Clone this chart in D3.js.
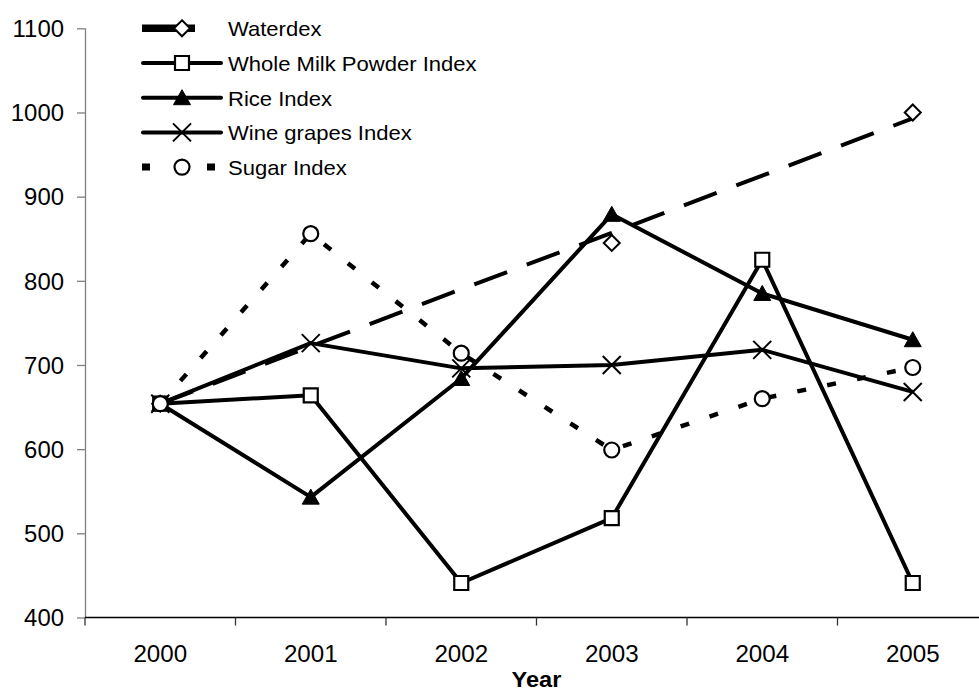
<!DOCTYPE html>
<html>
<head>
<meta charset="utf-8">
<script src="https://cdn.jsdelivr.net/npm/d3@7"></script>
<style>
  html, body { margin: 0; padding: 0; background: #fff; }
  svg { display: block; }
  text { font-family: "Liberation Sans", Arial, sans-serif; fill: #000; }
</style>
</head>
<body>
<svg id="chart" width="979" height="692"></svg>
<script>
// ---- data ----
const years = ["2000", "2001", "2002", "2003", "2004", "2005"];
const waterdexLine = [654, 722, 790, 857, 925, 993];
const waterdexPoints = [654, null, null, 845, null, 1000];
const wholeMilk = [654, 664, 441, 518, 825, 441];
const rice = [654, 543, 684, 879, 785, 730];
const wineGrapes = [654, 726, 696, 700, 718, 668];
const sugar = [654, 856, 714, 599, 660, 697];
const yTicks = [400, 500, 600, 700, 800, 900, 1000, 1100];
const legendLabels = ["Waterdex", "Whole Milk Powder Index", "Rice Index", "Wine grapes Index", "Sugar Index"];
const xTitle = "Year";

(function () {
// ---- layout ----
const svg = d3.select("#chart");
const pLeft = 85, pRight = 988, pTop = 28.3, pBottom = 617.5;

const x = d3.scaleBand().domain(years).range([pLeft, pRight]).padding(0);
const cx = d => x(d) + x.bandwidth() / 2;
const y = d3.scaleLinear().domain([400, 1100]).range([pBottom, pTop]);

// ---- axes ----
const yAxis = d3.axisLeft(y).tickValues(yTicks).tickSize(8).tickFormat(d3.format("d"));
const gy = svg.append("g").attr("transform", `translate(${pLeft},0)`).call(yAxis);
gy.select(".domain").attr("stroke", "#808080").attr("stroke-width", 1.3).attr("d", `M0.5,${pTop}V${pBottom}`);
gy.selectAll(".tick line").attr("stroke", "#808080").attr("stroke-width", 1.3);
gy.selectAll(".tick text").remove();
gy.selectAll(".tick").append("text")
  .attr("transform", "translate(-21,8.3) scale(1.04,1)")
  .attr("text-anchor", "end")
  .style("font-size", "23px")
  .text(d => d);

const xAxis = d3.axisBottom(x).tickSize(0);
const gx = svg.append("g").attr("transform", `translate(0,${pBottom})`).call(xAxis);
gx.select(".domain").attr("stroke", "#000").attr("stroke-width", 1.5).attr("d", `M${pLeft},0H${pRight}`);
gx.selectAll(".tick text").remove();
gx.selectAll(".tick").append("text")
  .attr("transform", "translate(0,44) scale(1.05,1)")
  .attr("text-anchor", "middle")
  .style("font-size", "23px")
  .text(d => d);
// category boundary tick marks
const boundaries = years.map(d => x(d)).concat([pRight]);
svg.append("g").selectAll("line").data(boundaries).join("line")
  .attr("x1", d => d).attr("x2", d => d)
  .attr("y1", pBottom).attr("y2", pBottom + 8)
  .attr("stroke", "#333").attr("stroke-width", 1.3);

svg.append("text")
  .attr("transform", `translate(${(pLeft + pRight) / 2},686.5) scale(1.05,1)`)
  .attr("text-anchor", "middle")
  .style("font-size", "22.5px").style("font-weight", "bold")
  .text(xTitle);

// ---- markers ----
const markerPath = {
  diamond: "M0,-8L8,0L0,8L-8,0Z",
  square: "M-7,-7H7V7H-7Z",
  triangle: "M0,-8L8.5,7L-8.5,7Z",
  cross: "M-9,-9L9,9M9,-9L-9,9",
  circle: d3.arc()({innerRadius: 0, outerRadius: 7.5, startAngle: 0, endAngle: 2 * Math.PI})
};
const markerStyle = {
  diamond: {fill: "#fff", stroke: "#000", sw: 2},
  square: {fill: "#fff", stroke: "#000", sw: 2.2},
  triangle: {fill: "#000", stroke: "#000", sw: 1},
  cross: {fill: "none", stroke: "#000", sw: 2},
  circle: {fill: "#fff", stroke: "#000", sw: 2.2}
};

const lineGen = d3.line().defined(d => d != null).x((d, i) => cx(years[i])).y(d => y(d));

const series = [
  {values: waterdexLine, dash: "35,21", width: 4, markers: waterdexPoints, marker: "diamond"},
  {values: wholeMilk, dash: null, width: 4, markers: wholeMilk, marker: "square"},
  {values: rice, dash: null, width: 4, markers: rice, marker: "triangle"},
  {values: wineGrapes, dash: null, width: 4, markers: wineGrapes, marker: "cross"},
  {values: sugar, dash: "9,21.5", width: 4.5, markers: sugar, marker: "circle"}
];

const plot = svg.append("g");
series.forEach(s => {
  plot.append("path")
    .attr("d", lineGen(s.values))
    .attr("fill", "none")
    .attr("stroke", "#000")
    .attr("stroke-width", s.width)
    .attr("stroke-linejoin", "round")
    .attr("stroke-dasharray", s.dash);
});
series.forEach(s => {
  const st = markerStyle[s.marker];
  plot.append("g").selectAll("path")
    .data(s.markers.map((v, i) => ({v, i})).filter(d => d.v != null))
    .join("path")
    .attr("transform", d => `translate(${cx(years[d.i])},${y(d.v)})`)
    .attr("d", markerPath[s.marker])
    .attr("fill", st.fill).attr("stroke", st.stroke).attr("stroke-width", st.sw);
});

// ---- legend ----
const legend = svg.append("g");
const rowY = i => 28.3 + i * 34.7;
const symX = 182;
series.forEach((s, i) => {
  const g = legend.append("g").attr("transform", `translate(0,${rowY(i)})`);
  if (i === 0) {
    g.append("line").attr("x1", 142).attr("x2", 195).attr("y1", 0).attr("y2", 0)
      .attr("stroke", "#000").attr("stroke-width", 7.5);
  } else if (s.dash) {
    g.append("line").attr("x1", 142).attr("x2", 215).attr("y1", 0).attr("y2", 0)
      .attr("stroke", "#000").attr("stroke-width", 7).attr("stroke-dasharray", "8,57");
  } else {
    g.append("line").attr("x1", 143).attr("x2", 221).attr("y1", 0).attr("y2", 0)
      .attr("stroke", "#000").attr("stroke-width", 4).attr("stroke-linecap", "round");
  }
  const st = markerStyle[s.marker];
  g.append("path").attr("transform", `translate(${symX},0)`)
    .attr("d", markerPath[s.marker])
    .attr("fill", st.fill).attr("stroke", st.stroke).attr("stroke-width", st.sw);
  g.append("text")
    .attr("transform", "translate(228,8) scale(1.05,1)")
    .style("font-size", "21px")
    .text(legendLabels[i]);
});
})();
</script>
</body>
</html>
